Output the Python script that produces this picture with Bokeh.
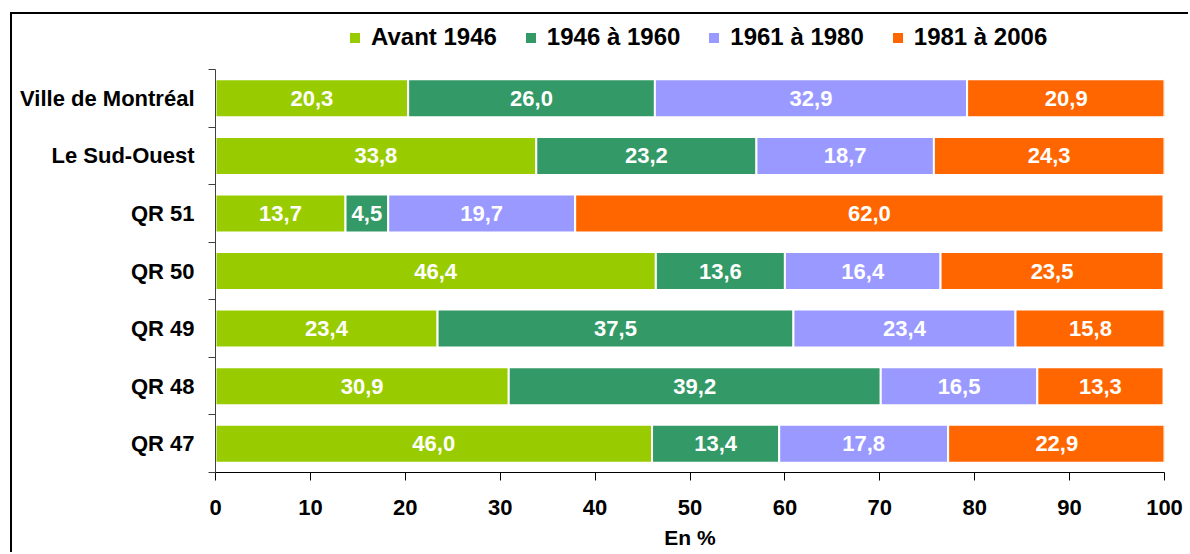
from bokeh.plotting import figure
from bokeh.models import ColumnDataSource, Range1d, FixedTicker
from bokeh.core.properties import value
from bokeh.embed import file_html
from bokeh.resources import INLINE

categories = ["Ville de Montréal", "Le Sud-Ouest", "QR 51", "QR 50", "QR 49", "QR 48", "QR 47"]
series_names = ["Avant 1946", "1946 à 1960", "1961 à 1980", "1981 à 2006"]
avant_1946 = [20.3, 33.8, 13.7, 46.4, 23.4, 30.9, 46.0]
de_1946_1960 = [26.0, 23.2, 4.5, 13.6, 37.5, 39.2, 13.4]
de_1961_1980 = [32.9, 18.7, 19.7, 16.4, 23.4, 16.5, 17.8]
de_1981_2006 = [20.9, 24.3, 62.0, 23.5, 15.8, 13.3, 22.9]
colors = ["#99CC00", "#339966", "#9999FF", "#FF6600"]
x_ticks = [0, 10, 20, 30, 40, 50, 60, 70, 80, 90, 100]

FONT = "Liberation Sans"
series = [avant_1946, de_1946_1960, de_1961_1980, de_1981_2006]
keys = ["s0", "s1", "s2", "s3"]
n = len(categories)

data = {"y": list(range(n))}
for k, s in zip(keys, series):
    data[k] = s
source = ColumnDataSource(data)

# extra room above the first category holds the legend inside the frame
TOP_ROOM = 0.9565
p = figure(width=1178, height=540, output_backend="svg", toolbar_location=None,
           x_range=Range1d(0, 100), y_range=Range1d(n - 0.5, -0.5 - TOP_ROOM),
           min_border_left=203, min_border_right=26, min_border_top=0, min_border_bottom=82)
p.styles = {"border-left": "2px solid black", "border-top": "2px solid black",
            "margin-left": "10px", "margin-top": "12px"}

p.hbar_stack(keys, y="y", height=0.66, color=colors, source=source,
             line_color="white", line_width=2, legend_label=series_names)

# value labels centred in each segment
lab_x, lab_y, lab_t = [], [], []
for i in range(n):
    left = 0.0
    for s in series:
        v = s[i]
        lab_x.append(left + v / 2)
        lab_y.append(i)
        lab_t.append(f"{v:.1f}".replace(".", ","))
        left += v
lsrc = ColumnDataSource(dict(x=lab_x, y=lab_y, t=lab_t))
p.text(x="x", y="y", text="t", source=lsrc, text_color="white",
       text_font=value(FONT), text_font_style="bold", text_font_size="22px",
       text_align="center", text_baseline="middle")

p.xgrid.grid_line_color = None
p.ygrid.grid_line_color = None
p.outline_line_color = None

# x axis
xa = p.xaxis[0]
xa.ticker = FixedTicker(ticks=x_ticks)
xa.axis_label = "En %"
xa.axis_label_text_font = FONT
xa.axis_label_text_font_style = "bold"
xa.axis_label_text_font_size = "21px"
xa.axis_label_text_color = "black"
xa.axis_label_standoff = 8
xa.major_label_text_font = FONT
xa.major_label_text_font_style = "bold"
xa.major_label_text_font_size = "22px"
xa.major_label_standoff = 19
xa.major_tick_out = 8
xa.major_tick_in = 0
xa.minor_tick_line_color = None
xa.axis_line_color = "black"
xa.major_tick_line_color = "black"
xa.major_label_text_color = "black"

# y axis: labels at centres, small ticks at boundaries
ya = p.yaxis[0]
ya.bounds = (-0.5, n - 0.5)
ya.ticker = FixedTicker(ticks=list(range(n)), minor_ticks=[i - 0.5 for i in range(n + 1)])
ya.major_label_overrides = {i: c for i, c in enumerate(categories)}
ya.major_tick_out = 0
ya.major_tick_in = 0
ya.minor_tick_out = 7
ya.minor_tick_in = 0
ya.minor_tick_line_color = "#404040"
ya.axis_line_color = "#404040"
ya.major_label_standoff = 14
ya.major_label_text_font = FONT
ya.major_label_text_font_style = "bold"
ya.major_label_text_font_size = "22px"
ya.major_label_text_color = "black"

lg = p.legend[0]
lg.orientation = "horizontal"
lg.location = (132, 421)
lg.border_line_color = None
lg.background_fill_alpha = 0
lg.padding = 0
lg.margin = 0
lg.spacing = 26
lg.glyph_width = 15
lg.glyph_height = 15
lg.label_standoff = 9
lg.label_height = 24
lg.label_text_font = FONT
lg.label_text_font_style = "bold"
lg.label_text_font_size = "24px"
lg.label_text_color = "black"

open("out.html", "w").write(file_html(p, INLINE))
